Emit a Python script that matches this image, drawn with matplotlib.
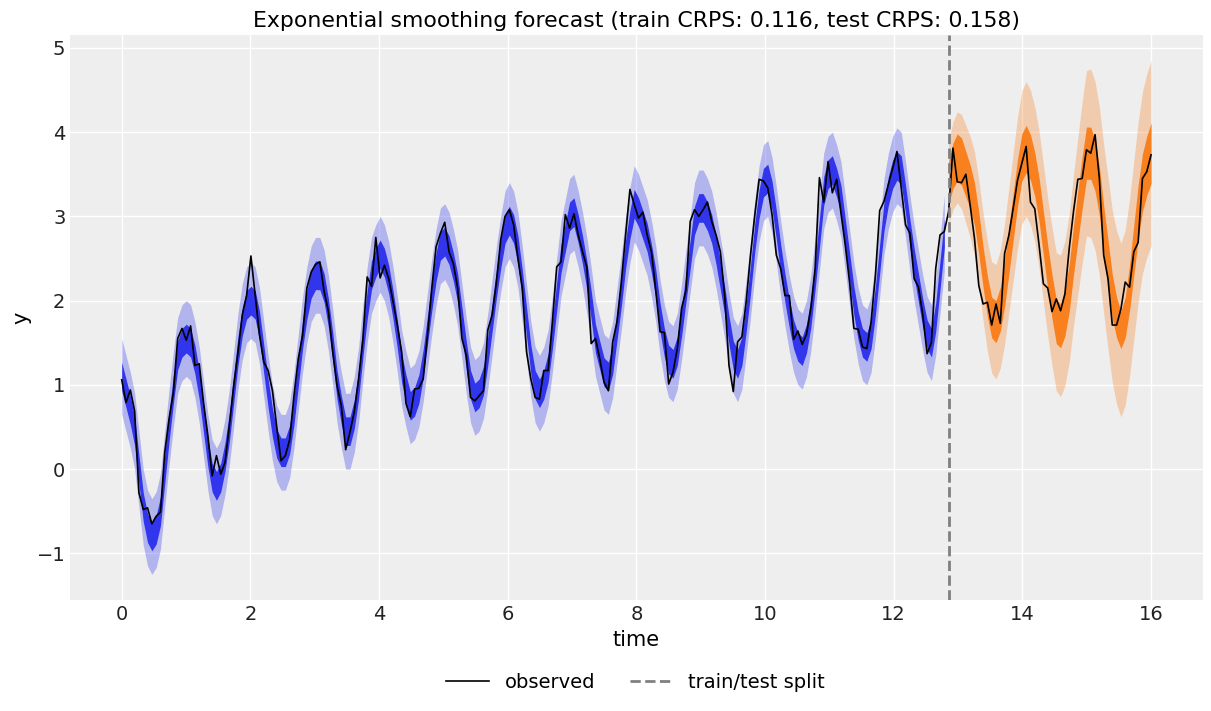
import numpy as np
import matplotlib
matplotlib.use("Agg")
import matplotlib.pyplot as plt

# Data
n_points = 240
n_train = 192
t = np.linspace(0, 16, n_points)

observed = [
    1.06, 0.79, 0.94, 0.69, -0.28, -0.48, -0.46, -0.65, -0.56, -0.51,
    0.20, 0.60, 0.91, 1.55, 1.67, 1.53, 1.70, 1.23, 1.25, 0.79,
    0.40, -0.08, 0.16, -0.06, 0.08, 0.52, 0.99, 1.39, 1.83, 2.06,
    2.53, 2.06, 1.59, 1.27, 1.17, 0.93, 0.50, 0.10, 0.16, 0.35,
    0.87, 1.31, 1.59, 2.15, 2.34, 2.43, 2.46, 2.11, 1.87, 1.39,
    0.99, 0.75, 0.23, 0.44, 0.68, 1.07, 1.55, 2.28, 2.17, 2.75,
    2.27, 2.42, 2.26, 1.99, 1.71, 1.39, 0.78, 0.62, 0.95, 0.96,
    1.07, 1.59, 2.15, 2.64, 2.80, 2.93, 2.58, 2.44, 2.15, 1.55,
    1.35, 0.85, 0.81, 0.87, 0.93, 1.65, 1.83, 2.22, 2.72, 3.00,
    3.08, 2.90, 2.50, 2.15, 1.39, 1.07, 0.85, 0.83, 1.17, 1.17,
    1.75, 2.40, 2.46, 3.02, 2.86, 3.03, 2.78, 2.58, 2.40, 1.49,
    1.55, 1.31, 1.03, 0.93, 1.51, 1.75, 2.22, 2.78, 3.32, 3.14,
    2.98, 3.05, 2.78, 2.58, 2.12, 1.63, 1.62, 1.01, 1.15, 1.43,
    1.91, 2.12, 2.94, 3.08, 3.00, 3.08, 3.17, 2.94, 2.78, 2.58,
    2.06, 1.23, 0.92, 1.51, 1.57, 1.99, 2.54, 3.02, 3.44, 3.42,
    3.34, 3.02, 2.54, 2.38, 2.06, 2.06, 1.54, 1.64, 1.48, 1.60,
    1.91, 2.38, 3.46, 3.17, 3.65, 3.28, 3.44, 3.04, 2.66, 2.22,
    1.67, 1.66, 1.45, 1.43, 1.75, 2.30, 3.07, 3.18, 3.38, 3.57,
    3.77, 3.34, 2.90, 2.80, 2.26, 2.16, 1.83, 1.37, 1.50, 2.38,
    2.78, 2.82, 3.06, 3.81, 3.41, 3.40, 3.50, 3.13, 2.74, 2.18,
    1.96, 1.98, 1.71, 1.96, 1.73, 2.56, 2.78, 3.10, 3.43, 3.63,
    3.83, 3.17, 3.09, 2.66, 2.20, 2.15, 1.87, 2.02, 1.88, 2.08,
    2.62, 3.06, 3.44, 3.45, 3.79, 3.75, 3.97, 3.45, 2.54, 2.26,
    1.71, 1.71, 1.90, 2.22, 2.16, 2.58, 2.69, 3.45, 3.53, 3.73,
]

# centre of the posterior predictive bands (train: one-step-ahead fit)
train_mean = [
    1.10, 0.90, 0.70, 0.45, 0.00, -0.45, -0.70, -0.80, -0.72, -0.50,
    0.00, 0.50, 0.95, 1.35, 1.50, 1.55, 1.50, 1.30, 1.00, 0.60,
    0.20, -0.10, -0.20, -0.10, 0.15, 0.50, 0.95, 1.40, 1.75, 1.95,
    2.00, 1.95, 1.70, 1.30, 0.90, 0.55, 0.30, 0.20, 0.20, 0.35,
    0.70, 1.15, 1.60, 1.95, 2.20, 2.30, 2.30, 2.15, 1.85, 1.45,
    1.00, 0.70, 0.45, 0.45, 0.65, 1.00, 1.50, 1.95, 2.30, 2.45,
    2.55, 2.45, 2.25, 1.95, 1.60, 1.20, 0.95, 0.75, 0.80, 0.95,
    1.25, 1.65, 2.05, 2.40, 2.65, 2.70, 2.60, 2.40, 2.15, 1.75,
    1.35, 1.00, 0.85, 0.90, 1.05, 1.40, 1.80, 2.20, 2.55, 2.85,
    2.95, 2.85, 2.60, 2.20, 1.75, 1.30, 1.00, 0.90, 1.00, 1.20,
    1.60, 2.05, 2.50, 2.75, 3.00, 3.05, 2.85, 2.60, 2.30, 1.95,
    1.55, 1.35, 1.15, 1.10, 1.30, 1.70, 2.10, 2.55, 2.90, 3.15,
    3.05, 2.90, 2.75, 2.50, 2.20, 1.80, 1.50, 1.30, 1.25, 1.40,
    1.75, 2.15, 2.55, 2.95, 3.10, 3.10, 3.00, 2.85, 2.60, 2.30,
    2.00, 1.65, 1.35, 1.25, 1.40, 1.80, 2.25, 2.75, 3.15, 3.40,
    3.45, 3.25, 2.90, 2.50, 2.15, 1.85, 1.60, 1.45, 1.40, 1.55,
    1.85, 2.30, 2.80, 3.30, 3.50, 3.55, 3.40, 3.20, 2.80, 2.40,
    2.00, 1.70, 1.50, 1.45, 1.60, 2.00, 2.50, 3.00, 3.30, 3.50,
    3.60, 3.55, 3.20, 2.80, 2.45, 2.15, 1.85, 1.60, 1.50, 1.80,
    2.30, 2.80,
]
train_hdi94_half = 0.45
train_hdi50_half = 0.17

# forecast centre and half widths of the bands on the test set
test_mean = [
    3.40, 3.60, 3.70, 3.65, 3.50, 3.35, 3.15, 2.80,
    2.40, 2.05, 1.80, 1.75, 1.90, 2.20, 2.60, 3.00,
    3.40, 3.70, 3.80, 3.70, 3.50, 3.20, 2.80, 2.40,
    2.05, 1.75, 1.70, 1.85, 2.15, 2.60, 3.00, 3.40,
    3.75, 3.75, 3.60, 3.30, 2.85, 2.45, 2.05, 1.80,
    1.65, 1.80, 2.15, 2.60, 3.05, 3.40, 3.60, 3.75,
]
test_hdi94_half = [
    0.50, 0.52, 0.54, 0.56, 0.58, 0.60, 0.62, 0.63,
    0.64, 0.65, 0.66, 0.68, 0.70, 0.72, 0.74, 0.76,
    0.78, 0.79, 0.80, 0.80, 0.80, 0.81, 0.82, 0.82,
    0.82, 0.82, 0.84, 0.86, 0.88, 0.90, 0.93, 0.96,
    0.98, 1.00, 1.00, 1.00, 1.00, 1.02, 1.02, 1.03,
    1.03, 1.04, 1.05, 1.06, 1.07, 1.08, 1.09, 1.10,
]
test_hdi50_half = [
    0.25, 0.27, 0.28, 0.28, 0.27, 0.26, 0.25, 0.25,
    0.24, 0.24, 0.24, 0.25, 0.26, 0.27, 0.28, 0.28,
    0.28, 0.28, 0.28, 0.27, 0.26, 0.26, 0.26, 0.26,
    0.26, 0.26, 0.26, 0.27, 0.28, 0.29, 0.30, 0.31,
    0.31, 0.31, 0.30, 0.29, 0.28, 0.27, 0.26, 0.24,
    0.22, 0.24, 0.27, 0.30, 0.32, 0.34, 0.35, 0.36,
]

crps_train = 0.116
crps_test = 0.158

# arviz-darkgrid like look
plt.rcParams.update({
    "font.family": "DejaVu Sans",
    "axes.facecolor": "#eeeeee",
    "axes.edgecolor": "white",
    "axes.grid": True,
    "grid.color": "white",
    "grid.linewidth": 1.0,
    "axes.axisbelow": True,
    "xtick.major.size": 0,
    "ytick.major.size": 0,
    "xtick.color": "#222222",
    "ytick.color": "#222222",
})

t_train = t[:n_train]
t_test = t[n_train:]
train_mean = np.array(train_mean)
test_mean = np.array(test_mean)
test_hdi94_half = np.array(test_hdi94_half)
test_hdi50_half = np.array(test_hdi50_half)

fig, ax = plt.subplots(figsize=(12.11, 7.11), dpi=100)
for s in ax.spines.values():
    s.set_visible(False)

ax.fill_between(t_train, train_mean - train_hdi94_half, train_mean + train_hdi94_half,
                color="#2a2eec", alpha=0.3, linewidth=0)
ax.fill_between(t_train, train_mean - train_hdi50_half, train_mean + train_hdi50_half,
                color="#2a2eec", alpha=0.95, linewidth=0)
ax.fill_between(t_test, test_mean - test_hdi94_half, test_mean + test_hdi94_half,
                color="#fa7c17", alpha=0.3, linewidth=0)
ax.fill_between(t_test, test_mean - test_hdi50_half, test_mean + test_hdi50_half,
                color="#fa7c17", alpha=0.95, linewidth=0)

ax.plot(t, observed, color="black", linewidth=1.2, label="observed")
ax.axvline(t[n_train], color="gray", linestyle="--", linewidth=2, label="train/test split")

ax.set_xticks(np.arange(0, 17, 2))
ax.tick_params(labelsize=14)
ax.set_xlabel("time", fontsize=15)
ax.set_ylabel("y", fontsize=15)
ax.set_title(f"Exponential smoothing forecast (train CRPS: {crps_train:.3f}, test CRPS: {crps_test:.3f})",
             fontsize=15.8)

fig.subplots_adjust(left=0.058, right=0.993, top=0.951, bottom=0.156)
fig.legend(loc="center", bbox_to_anchor=(0.525, 0.04), ncol=2, frameon=False,
           fontsize=14, columnspacing=1.8, handlelength=2.2)
fig.savefig("out.png", dpi=100)
